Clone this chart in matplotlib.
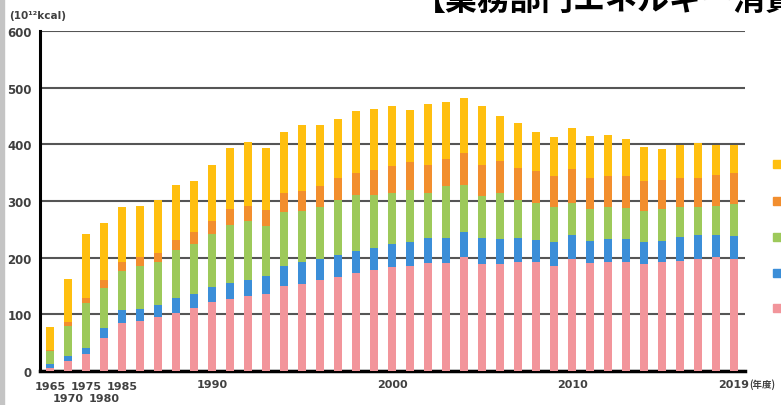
import matplotlib
matplotlib.use("Agg")
import matplotlib.pyplot as plt
from matplotlib.patches import Rectangle
from matplotlib.transforms import blended_transform_factory

plt.rcParams['font.family'] = ['Noto Sans CJK JP', 'DejaVu Sans']

years = ["1965", "1970", "1975", "1980"] + [str(y) for y in range(1985, 2020)]

# Cumulative stack heights (10^12 kcal), bottom to top
cum_pink = [6, 18, 30, 58, 84, 89, 96, 102, 111, 121,
            127, 132, 136, 150, 154, 160, 166, 173, 178, 183,
            186, 191, 191, 201, 189, 188, 192, 192, 186, 198,
            190, 192, 192, 188, 192, 194, 198, 201, 198]
cum_blue = [13, 26, 40, 76, 108, 110, 117, 128, 136, 149,
            155, 161, 167, 185, 192, 197, 204, 212, 217, 225,
            228, 234, 234, 246, 234, 233, 234, 232, 227, 240,
            230, 233, 233, 228, 230, 236, 240, 240, 239]
cum_green = [36, 80, 120, 147, 176, 185, 192, 214, 225, 241,
             258, 264, 256, 281, 283, 290, 302, 310, 310, 314,
             320, 314, 326, 329, 309, 315, 302, 297, 290, 297,
             286, 290, 287, 283, 286, 289, 289, 292, 294]
cum_orange = [37, 87, 129, 160, 192, 201, 209, 232, 245, 265,
              286, 292, 284, 315, 317, 326, 341, 350, 355, 361,
              369, 364, 375, 384, 364, 371, 359, 353, 344, 357,
              341, 344, 344, 336, 337, 341, 341, 346, 350]
cum_yellow = [78, 163, 242, 262, 289, 292, 302, 328, 336, 363,
              393, 404, 394, 422, 434, 435, 444, 459, 462, 467,
              460, 472, 475, 481, 467, 450, 437, 422, 413, 429,
              414, 416, 409, 395, 391, 399, 402, 398, 398]

pink = cum_pink
blue = [b - a for a, b in zip(cum_pink, cum_blue)]
green = [b - a for a, b in zip(cum_blue, cum_green)]
orange = [b - a for a, b in zip(cum_green, cum_orange)]
yellow = [b - a for a, b in zip(cum_orange, cum_yellow)]

yticks = [0, 100, 200, 300, 400, 500, 600]
early_labels = {0: "1965", 2: "1975", 4: "1985"}
later_labels = {9: "1990", 19: "2000", 29: "2010", 38: "2019"}
row2_labels = {1: "1970", 3: "1980"}

c_pink = "#F2959B"
c_blue = "#3B8ED8"
c_green = "#9DC95A"
c_orange = "#F28E2E"
c_yellow = "#FFBF0F"

fig = plt.figure(figsize=(7.81, 4.06), dpi=100)
ax = fig.add_axes([40 / 781, 34 / 406, 705 / 781, 340 / 406])

x = list(range(len(years)))
w = 0.42
bottom = [0] * len(x)
for vals, col in [(pink, c_pink), (blue, c_blue), (green, c_green),
                  (orange, c_orange), (yellow, c_yellow)]:
    ax.bar(x, vals, width=w, bottom=bottom, color=col, zorder=3, linewidth=0)
    bottom = [b + v for b, v in zip(bottom, vals)]

ax.set_xlim(-0.56, 38.61)
ax.set_ylim(0, 600)
ax.set_yticks(yticks)
ax.set_yticklabels([str(t) for t in yticks], fontsize=8.5, fontweight='bold',
                   color="#404040", family=['DejaVu Sans'])
ax.tick_params(axis='y', length=0, pad=6)
ax.set_xticks([])
ax.yaxis.grid(True, color="#555555", linewidth=1.5, zorder=1)
ax.set_axisbelow(True)
for s in ['top', 'right']:
    ax.spines[s].set_visible(False)
ax.spines['left'].set_linewidth(2.2)
ax.spines['left'].set_color("black")
ax.spines['bottom'].set_linewidth(2.5)
ax.spines['bottom'].set_color("black")

trans = blended_transform_factory(ax.transData, fig.transFigure)
label_kw = dict(transform=trans, ha='center', va='center', fontsize=8,
                fontweight='bold', color="#404040", family=['DejaVu Sans'])
for i, lab in early_labels.items():
    ax.text(i, 1 - 387 / 406, lab, **label_kw)
for i, lab in later_labels.items():
    ax.text(i, 1 - 385 / 406, lab, **label_kw)
for i, lab in row2_labels.items():
    ax.text(i, 1 - 399 / 406, lab, **label_kw)
fig.text(749 / 781, 1 - 385 / 406, "(年度)", ha='left', va='center', fontsize=6.8,
         fontweight='bold', color="#404040")

fig.text(9 / 781, 1 - 16 / 406, "(10¹²kcal)", ha='left', va='center', fontsize=7.5,
         fontweight='bold', color="#404040", family=['DejaVu Sans'])

# Section title running off the top edge
fig.text(414 / 781, 1 - 10 / 406, "【業務部門エネルギー消費】", ha='left', va='baseline',
         fontsize=23, fontweight='bold', color="black")

# Legend swatches on the right edge
for col, yy in [(c_yellow, 165), (c_orange, 202), (c_green, 238),
                (c_blue, 274), (c_pink, 309)]:
    fig.patches.append(Rectangle((773 / 781, 1 - (yy + 4) / 406), 8 / 781, 8 / 406,
                                 transform=fig.transFigure, color=col))

# Gray frame strip on the left edge
fig.patches.append(Rectangle((0, 0), 4 / 781, 1, transform=fig.transFigure,
                             color="#c4c4c4"))

fig.savefig("out.png", dpi=100)
